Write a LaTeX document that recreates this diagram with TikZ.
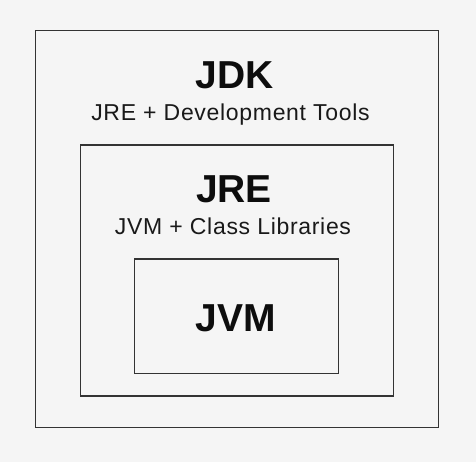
\documentclass[tikz,border=0pt]{standalone}
\usepackage{fontspec}
\setmainfont{Liberation Sans}
\newfontfamily\subfont{Liberation Sans}[LetterSpace=3]
\begin{document}
\begin{tikzpicture}[x=1pt,y=-1pt,
  frame/.style={draw=black!80,line width=1.2pt,fill=none},
  title/.style={anchor=base,font=\fontsize{39}{41}\selectfont\bfseries,text=black!95,inner sep=0pt},
  subtitle/.style={anchor=base,font=\subfont\fontsize{23}{25}\selectfont,text=black!90,inner sep=0pt}]
\fill[black!4] (0,0) rectangle (476,462);
\useasboundingbox (0,0) rectangle (476,462);
\draw[frame] (35.5,30.7) rectangle (438.3,427.3);
\draw[frame] (80.3,145) rectangle (393.7,396);
\draw[frame] (134.7,259) rectangle (338.7,373.3);
\node[title] (jdk) at (235,89) {JDK};
\node[subtitle] (jdksub) at (230.5,121) {JRE + Development Tools};
\node[title] (jre) at (234,203) {JRE};
\node[subtitle] (jresub) at (233,234) {JVM + Class Libraries};
\node[title] (jvm) at (236,331.7) {JVM};
\end{tikzpicture}
\end{document}
